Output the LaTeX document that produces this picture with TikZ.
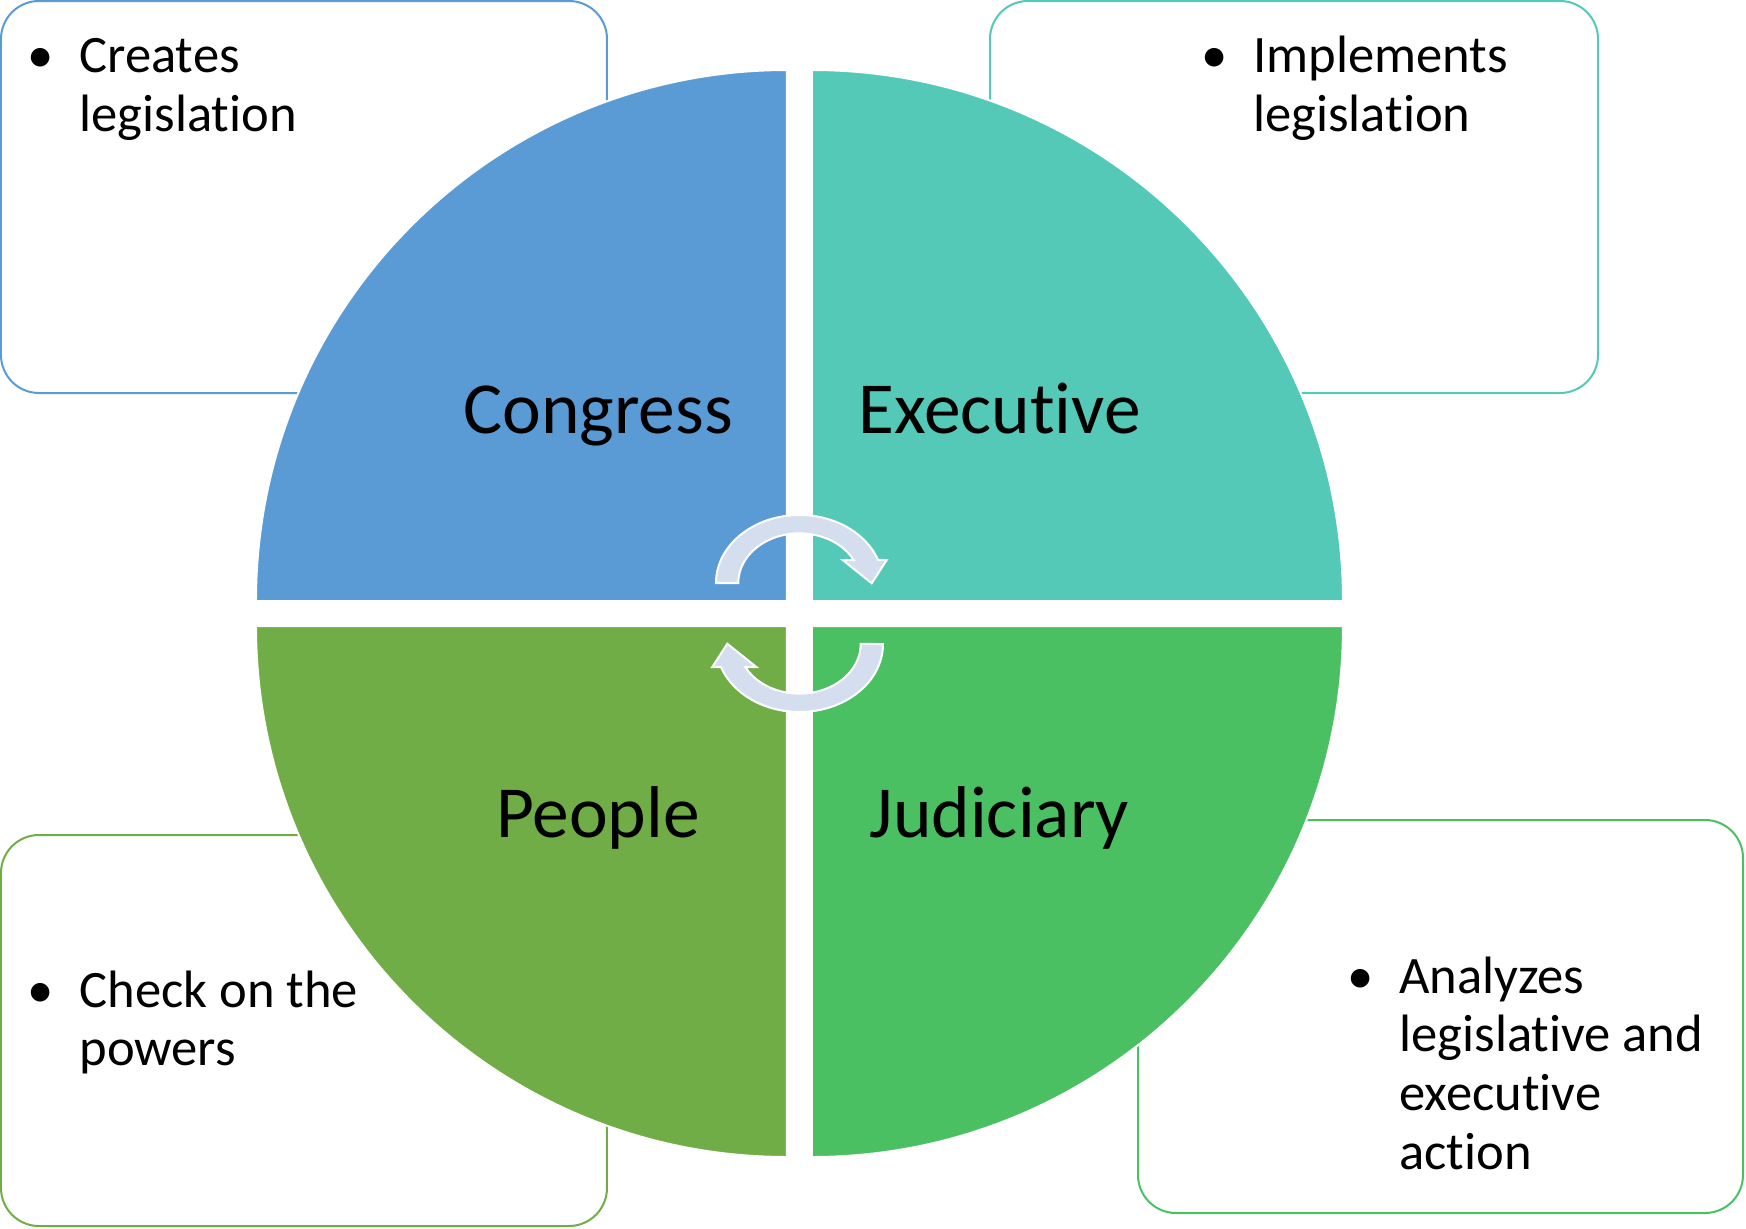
\documentclass[tikz,border=0pt]{standalone}
\usepackage{fontspec}
\setmainfont{Carlito}[Ligatures={NoCommon}]
\usepackage{xcolor}
\usepackage{tikz}

\definecolor{congressblue}{HTML}{5B9BD5}
\definecolor{executiveteal}{HTML}{54C9B7}
\definecolor{judiciarygreen}{HTML}{4BC063}
\definecolor{peoplegreen}{HTML}{71AD47}
\definecolor{arrowgray}{HTML}{D5DEEF}

% bullet point with the text lines hanging after it
\newcommand{\pts}[1]{\llap{\textbullet\hspace{13pt}}\begin{tabular}[t]{@{}l@{}}#1\end{tabular}}
% the curved arrow over the centre, turning right
\newcommand{\cyclearrow}{(-83.5,30.5) arc[start angle=180,end angle=19.8,x radius=83.5,y radius=68]
  -- (87.2,53.5) -- (72.2,30.2) -- (43.2,53.5) -- (54.24,53.5)
  arc[start angle=27.6,end angle=180,x radius=61.2,y radius=49.7] -- cycle}

\tikzset{
  quadlabel/.style={font=\fontsize{36.7}{44}\selectfont, anchor=base, inner sep=0pt},
  note/.style={font=\fontsize{26.3}{29.4}\selectfont, anchor=base west, inner sep=0pt},
  notebox/.style={line width=1pt, rounded corners=19pt},
  quad/.style={draw=white, line width=1pt},
  turn/.style={fill=arrowgray, draw=white, line width=1pt}
}

\begin{document}
\begin{tikzpicture}[x=0.5pt,y=0.5pt]
\useasboundingbox (-799.5,-614.5) rectangle (946.5,613.5);

% boxes behind the circle
\draw[notebox,congressblue] (-798.5,612.5) rectangle (-192.5,220.5);
\draw[notebox,executiveteal] (190.5,612.5) rectangle (798.5,220.5);
\draw[notebox,peoplegreen] (-798.5,-221.5) rectangle (-192.5,-612.5);
\draw[notebox,judiciarygreen] (338.5,-206.5) rectangle (943.5,-599.5);

% the four quarters
\filldraw[quad,fill=congressblue] (-12.5,12.5) -- ++(-531,0) arc[start angle=180,end angle=90,radius=531] -- cycle;
\filldraw[quad,fill=executiveteal] (12.5,12.5) -- ++(0,531) arc[start angle=90,end angle=0,radius=531] -- cycle;
\filldraw[quad,fill=judiciarygreen] (12.5,-12.5) -- ++(531,0) arc[start angle=0,end angle=-90,radius=531] -- cycle;
\filldraw[quad,fill=peoplegreen] (-12.5,-12.5) -- ++(0,-531) arc[start angle=270,end angle=180,radius=531] -- cycle;

\node[quadlabel] (congress) at (-201.5,180) {Congress};
\node[quadlabel] (executive) at (200,180) {Executive};
\node[quadlabel] (people) at (-201.5,-224) {People};
\node[quadlabel] (judiciary) at (200,-224) {Judiciary};

% arrows in the middle
\filldraw[turn] \cyclearrow;
\filldraw[turn,rotate=180] \cyclearrow;

\node[note] (creates) at (-720.5,541) {\pts{Creates\\legislation}};
\node[note] (implements) at (453.3,541) {\pts{Implements\\legislation}};
\node[note] (check) at (-720.5,-393.5) {\pts{Check on the\\powers}};
\node[note] (analyzes) at (599.5,-379.5) {\pts{Analyzes\\legislative and\\executive\\action}};
\end{tikzpicture}
\end{document}
